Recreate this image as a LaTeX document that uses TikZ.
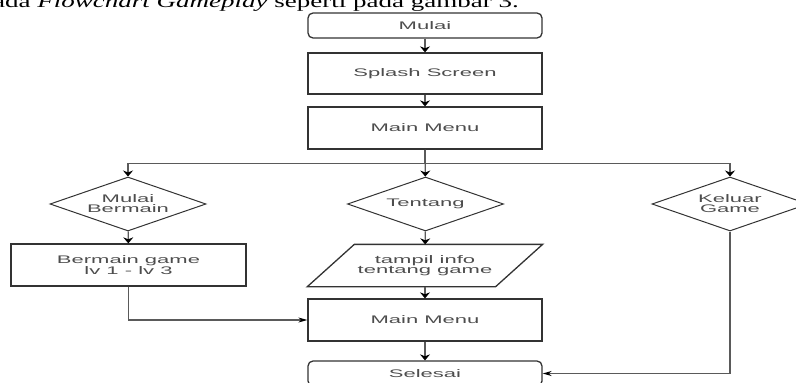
\documentclass[tikz,border=0pt]{standalone}
\usepackage{fontspec}
\setmainfont{Liberation Serif}
\newfontfamily\boxfont[FakeStretch=2]{Liberation Sans}
\newfontfamily\topfont[FakeStretch=1.5]{Liberation Serif}
\usetikzlibrary{shapes.geometric,arrows.meta}
\definecolor{boxc}{HTML}{333333}
\definecolor{linec}{HTML}{5A5A5A}
\definecolor{txtc}{HTML}{4D4D4D}
\tikzset{
  box/.style={draw=boxc, line width=1.3pt, minimum width=234pt, minimum height=42pt,
    inner sep=0pt, font=\boxfont\fontsize{11}{10}\selectfont, text=txtc, align=center},
  term/.style={box, rounded corners=5pt, minimum height=25pt},
  dec/.style={diamond, draw=boxc, line width=1pt, shape aspect=2.9, minimum width=156pt,
    minimum height=54pt, inner sep=0pt, font=\boxfont\fontsize{11}{10}\selectfont,
    text=txtc, align=center},
  iobox/.style={box, draw=none, minimum height=41pt},
  conn/.style={draw=linec, line width=1.1pt},
  arV/.style={-{Stealth[length=6pt,width=10pt,black]}},
  arH/.style={-{Stealth[length=9pt,width=5pt,black]}}
}
\begin{document}
\begin{tikzpicture}[x=1pt,y=1pt]
\useasboundingbox (0,0) rectangle (796,-383);
\node[anchor=base east, font=\topfont\fontsize{18}{20}\selectfont, inner sep=0pt] (top) at (519,-7.5)
  {ada \textit{Flowchart Gameplay} seperti pada gambar 3.};
\node[term] (mulai) at (425,-25.5) {Mulai};
\node[box, minimum height=41pt] (splash) at (425,-73.5) {Splash Screen};
\node[box] (menu) at (425,-128) {Main Menu};
\node[dec] (mulaiB) at (128,-204) {Mulai\\Bermain};
\node[dec] (tentang) at (425.5,-204) {Tentang};
\node[dec] (keluar) at (730,-204) {Keluar\\Game};
\node[box, minimum width=235pt] (bermain) at (128.5,-265) {Bermain game\\lv 1 - lv 3};
\node[iobox] (info) at (425,-265.5) {tampil info\\tentang game};
\draw[draw=boxc, line width=1.3pt] ([xshift=47pt]info.north west) -- (info.north east)
  -- ([xshift=-47pt]info.south east) -- (info.south west) -- cycle;
\node[box] (menu2) at (425,-320) {Main Menu};
\node[term] (selesai) at (425,-373.5) {Selesai};
\draw[conn,arV] (mulai) -- (splash);
\draw[conn,arV] (splash) -- (menu);
\draw[conn,arV] (menu) -- (tentang);
\draw[conn,arV] (menu.south) -- ++(0,-14) -| (mulaiB.north);
\draw[conn,arV] (menu.south) -- ++(0,-14) -| (keluar.north);
\draw[conn,arV] (mulaiB) -- (bermain);
\draw[conn,arV] (tentang) -- (info);
\draw[conn,arV] (info) -- (menu2);
\draw[conn,arH] (bermain.south) |- (menu2.west);
\draw[conn,arV] (menu2) -- (selesai);
\draw[conn,arH] (keluar.south) |- (selesai.east);
\end{tikzpicture}
\end{document}
